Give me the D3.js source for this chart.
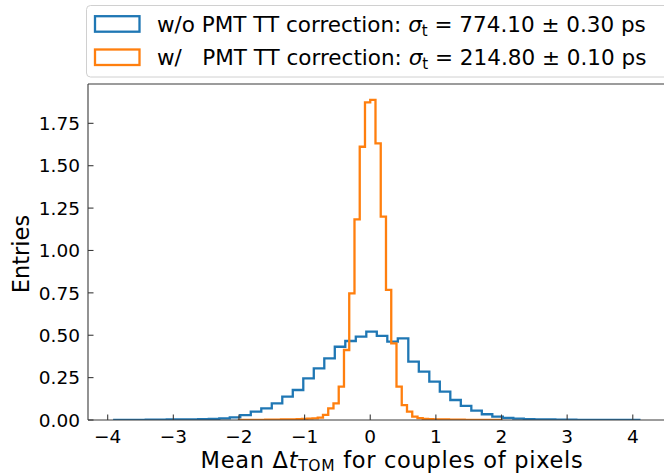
<!DOCTYPE html>
<html>
<head>
<meta charset="utf-8">
<script src="https://cdn.jsdelivr.net/npm/d3@7"></script>
<style>
  body { margin: 0; background: #fff; }
  svg { display: block; font-family: "DejaVu Sans", sans-serif; }
  .tick-label { font-size: 18.5px; fill: #000; }
  .axis-label { font-size: 22.5px; fill: #000; }
  .legend-text { font-size: 21.5px; fill: #000; white-space: pre; }
</style>
</head>
<body>
<script>
// histogram bins (50 bins each), density-normalised entries
const blueStart = -3.9, blueWidth = 0.16;
const blueValues = [
  0.001, 0.001, 0.001, 0.002, 0.002, 0.003, 0.003, 0.004, 0.005, 0.007,
  0.010, 0.015, 0.029, 0.049, 0.069, 0.098, 0.138, 0.177, 0.246, 0.305,
  0.364, 0.432, 0.466, 0.492, 0.521, 0.496, 0.462, 0.482, 0.344, 0.285,
  0.226, 0.167, 0.118, 0.083, 0.055, 0.034, 0.020, 0.012, 0.008, 0.005,
  0.004, 0.003, 0.002, 0.002, 0.001, 0.001, 0.001, 0.001, 0.001, 0.001
];
const orangeStart = -2.0, orangeWidth = 0.08;
const orangeValues = [
  0.001, 0.001, 0.001, 0.001, 0.001, 0.002, 0.002, 0.002, 0.003, 0.003,
  0.004, 0.005, 0.006, 0.008, 0.010, 0.014, 0.030, 0.069, 0.098, 0.197,
  0.413, 0.747, 1.184, 1.612, 1.874, 1.888, 1.632, 1.200, 0.767, 0.452,
  0.197, 0.088, 0.049, 0.020, 0.011, 0.007, 0.005, 0.004, 0.003, 0.003,
  0.002, 0.002, 0.002, 0.001, 0.001, 0.001, 0.001, 0.001, 0.001, 0.001
];
const xTicks = [-4, -3, -2, -1, 0, 1, 2, 3, 4];
const yTicks = [0, 0.25, 0.5, 0.75, 1.0, 1.25, 1.5, 1.75];
const legendPrefix = ["w/o PMT TT correction: ", "w/   PMT TT correction: "];
const legendValues = [" = 774.10 \u00b1 0.30 ps", " = 214.80 \u00b1 0.10 ps"];
const colors = ["#1f77b4", "#ff7f0e"];

const W = 664, H = 475;
const svg = d3.select("body").append("svg").attr("width", W).attr("height", H);

const x = d3.scaleLinear().domain([-4.3, 4.5]).range([88, 665.6]);
const y = d3.scaleLinear().domain([0, 1.982]).range([420, 84]);

// step outline like matplotlib histtype='step'
function stepPath(start, width, vals) {
  const pts = [[start, 0]];
  vals.forEach((v, i) => {
    pts.push([start + i * width, v]);
    pts.push([start + (i + 1) * width, v]);
  });
  pts.push([start + vals.length * width, 0]);
  return d3.line().x(d => x(d[0])).y(d => y(d[1]))(pts);
}

const plot = svg.append("g");
plot.append("clipPath").attr("id", "clip").append("rect")
  .attr("x", 88).attr("y", 84).attr("width", 600).attr("height", 336);

const hists = [[blueStart, blueWidth, blueValues], [orangeStart, orangeWidth, orangeValues]];
hists.forEach((h, i) => {
  plot.append("path")
    .attr("d", stepPath(h[0], h[1], h[2]))
    .attr("fill", "none")
    .attr("stroke", colors[i])
    .attr("stroke-width", 2.3)
    .attr("stroke-linejoin", "miter")
    .attr("clip-path", "url(#clip)");
});

// spines
const spine = { stroke: "#3a3a3a", "stroke-width": 1.1 };
function line(x1, y1, x2, y2, attrs) {
  const l = svg.append("line").attr("x1", x1).attr("y1", y1).attr("x2", x2).attr("y2", y2);
  Object.entries(attrs).forEach(([k, v]) => l.attr(k, v));
  return l;
}
line(88, 84, 664, 84, spine);
line(88, 84, 88, 420, spine);
line(88, 420, 664, 420, spine);

// ticks (inward)
xTicks.forEach(t => {
  line(x(t), 420, x(t), 414.5, spine);
  svg.append("text").attr("class", "tick-label")
    .attr("x", x(t)).attr("y", 443).attr("text-anchor", "middle")
    .text(t < 0 ? "\u2212" + Math.abs(t) : t);
});
yTicks.forEach(t => {
  line(88, y(t), 93.5, y(t), spine);
  svg.append("text").attr("class", "tick-label")
    .attr("x", 80).attr("y", y(t) + 6.7).attr("text-anchor", "end")
    .text(d3.format(".2f")(t));
});

// axis labels
svg.append("text").attr("class", "axis-label")
  .attr("transform", "translate(28.5,254) rotate(-90)")
  .attr("text-anchor", "middle")
  .text("Entries");

const xl = svg.append("text").attr("class", "axis-label")
  .attr("x", 392).attr("y", 467.5).attr("text-anchor", "middle")
  .attr("font-size", "21.5px")
  .attr("letter-spacing", "0.7px");
xl.append("tspan").text("Mean \u0394");
xl.append("tspan").attr("font-style", "italic").text("t");
xl.append("tspan").attr("font-size", "15.5px").attr("dy", 3.4).text("TOM");
xl.append("tspan").attr("dy", -3.4).text(" for couples of pixels");

// legend
svg.append("rect")
  .attr("x", 86.5).attr("y", 5.5).attr("width", 640).attr("height", 71.5)
  .attr("rx", 4).attr("fill", "#fff").attr("fill-opacity", 0.8)
  .attr("stroke", "#d0d0d0").attr("stroke-width", 1);

legendPrefix.forEach((p, i) => {
  const base = 31.7 + i * 33.3;
  svg.append("rect")
    .attr("x", 95).attr("y", base - 15.5).attr("width", 44.5).attr("height", 15.5)
    .attr("fill", "none").attr("stroke", colors[i]).attr("stroke-width", 2.3);
  const t = svg.append("text").attr("class", "legend-text")
    .attr("x", 157).attr("y", base);
  t.append("tspan").text(p);
  t.append("tspan").attr("font-style", "italic").text("\u03c3");
  t.append("tspan").attr("font-size", "15px").attr("dy", 3.8).text("t");
  t.append("tspan").attr("dy", -3.8).text(legendValues[i]);
});
</script>
</body>
</html>
